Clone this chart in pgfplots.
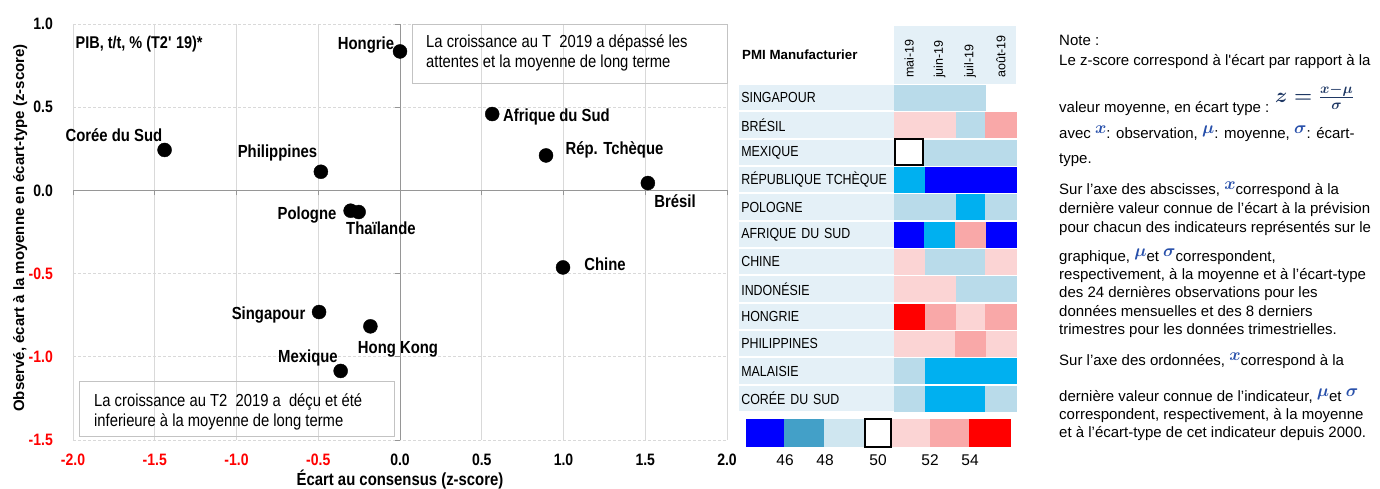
\documentclass[border=0pt]{standalone}
\usepackage{pgfplots}
\pgfplotsset{compat=1.18}
\usepackage{fontspec}
\setmainfont{Liberation Sans}
\newfontfamily\nar[FakeStretch=0.85]{Liberation Sans}
\definecolor{lbg}{RGB}{228,240,247}
\definecolor{cB}{RGB}{0,0,255}
\definecolor{cC}{RGB}{0,176,240}
\definecolor{cL}{RGB}{185,219,234}
\definecolor{cLP}{RGB}{251,212,212}
\definecolor{cP}{RGB}{249,168,168}
\definecolor{cR}{RGB}{255,0,0}
\definecolor{cS}{RGB}{67,160,200}
\definecolor{cLL}{RGB}{207,230,240}
\definecolor{gridc}{RGB}{217,217,217}
\definecolor{axc}{RGB}{150,150,150}
\definecolor{symc}{RGB}{40,80,170}
\definecolor{navyc}{RGB}{31,56,100}
\definecolor{boxc}{RGB}{195,195,195}
\newcommand\fs[1]{\fontsize{#1}{#1}\selectfont}
\newcommand\sym[1]{\raisebox{5pt}{\color{symc}\fs{17}\boldmath$#1$}}
\newcommand\zform{\textcolor{navyc}{\fs{22}\boldmath$z=\frac{x-\mu}{\sigma}$}}
\newcommand\lab[5]{\node[font=\nar\bfseries\fs{17.5}, inner sep=0pt, anchor=base] at ([shift={(#3pt,#4pt)}]axis cs:#1,#2) {#5};}
\pgfplotsset{cell/.style={only marks, mark=square*, mark size=12.6pt, mark options={xscale=1.218, fill=#1, draw=#1, line width=0.3pt}}}
\begin{document}
\begin{tikzpicture}
\useasboundingbox (0pt,0pt) rectangle (1380pt,489pt);

% ---------- scatter: grid and tick labels ----------
\begin{axis}[at={(400pt,298.6pt)}, anchor=origin, scale only axis, width=654pt, height=416pt,
 xmin=-2, xmax=2, ymin=-1.5, ymax=1,
 xtick={-2,-1.5,-1,-0.5,0,0.5,1,1.5,2},
 ytick={-1.5,-1,-0.5,0,0.5,1},
 xticklabels={{\color{red}-2.0},{\color{red}-1.5},{\color{red}-1.0},{\color{red}-0.5},0.0,0.5,1.0,1.5,2.0},
 yticklabels={{\color{red}-1.5},{\color{red}-1.0},{\color{red}-0.5},0.0,0.5,1.0},
 axis line style={draw=none}, major tick length=0pt,
 xmajorgrids, ymajorgrids,
 x grid style={draw=gridc, line width=0.8pt},
 y grid style={draw=gridc, line width=0.8pt, dash pattern=on 3pt off 2pt},
 xticklabel style={anchor=center, inner sep=0pt, yshift=-20pt, font=\nar\bfseries\fs{16.5}},
 yticklabel style={anchor=east, inner sep=0pt, xshift=-20pt, font=\nar\bfseries\fs{16.5}},
]
\end{axis}

% ---------- scatter: middle axes and data ----------
\begin{axis}[at={(400pt,298.6pt)}, anchor=origin, scale only axis, width=654pt, height=416pt,
 xmin=-2, xmax=2, ymin=-1.5, ymax=1,
 axis lines=middle, axis line style={draw=axc, line width=1pt, -},
 xtick={-2,-1.5,-1,-0.5,0,0.5,1,1.5,2},
 ytick={-1.5,-1,-0.5,0,0.5,1},
 xticklabels={}, yticklabels={},
 tick style={draw=axc, line width=0.8pt}, tick align=outside, major tick length=5pt,
 clip=false,
]
\addplot[only marks, mark=*, mark size=7pt, black] table {
x y
0.000 0.835
0.564 0.459
-1.440 0.243
-0.484 0.112
0.893 0.210
1.516 0.044
-0.302 -0.122
-0.253 -0.130
0.997 -0.463
-0.495 -0.731
-0.181 -0.817
-0.363 -1.085
};
\lab{0.000}{0.835}{-34}{1.7}{Hongrie}
\lab{0.564}{0.459}{64.3}{-7.7}{Afrique du Sud}
\lab{-1.440}{0.243}{-50.7}{8.3}{Corée du Sud}
\lab{-0.484}{0.112}{-43.4}{14}{Philippines}
\lab{0.893}{0.210}{68.5}{0.7}{Rép. Tchèque}
\lab{1.516}{0.044}{27.1}{-24.7}{Brésil}
\lab{-0.302}{-0.122}{-43.6}{-9}{Pologne}
\lab{-0.253}{-0.130}{22.3}{-22.7}{Thaïlande}
\lab{0.997}{-0.463}{42}{-3.3}{Chine}
\lab{-0.495}{-0.731}{-50.5}{-7.7}{Singapour}
\lab{-0.181}{-0.817}{27.6}{-27.6}{Hong Kong}
\lab{-0.363}{-1.085}{-32.7}{8.6}{Mexique}
\end{axis}

% scatter texts
\node[rotate=90, anchor=base, inner sep=0pt, font=\bfseries\fs{15}] at (24pt,261pt) {Observé, écart à la moyenne en écart-type (z-score)};
\node[anchor=base, inner sep=0pt, font=\nar\bfseries\fs{17.5}] at (400pt,3.5pt) {Écart au consensus (z-score)};
\node[anchor=base west, inner sep=0pt, font=\nar\bfseries\fs{17}] at (75.5pt,440pt) {PIB, t/t, \% (T2\textquotesingle\ 19)*};
\draw[boxc, line width=0.8pt] (412pt,406pt) rectangle (727.5pt,465pt);
\node[anchor=base west, inner sep=0pt, font=\nar\fs{17.4}] at (426pt,441.1pt) {La croissance au T~~2019 a dépassé les};
\node[anchor=base west, inner sep=0pt, font=\nar\fs{17.4}] at (426pt,421.1pt) {attentes et la moyenne de long terme};
\draw[boxc, line width=0.8pt] (79pt,53pt) rectangle (394pt,107.3pt);
\node[anchor=base west, inner sep=0pt, font=\nar\fs{17.4}] at (94pt,82.1pt) {La croissance au T2~~2019 a~ déçu et été};
\node[anchor=base west, inner sep=0pt, font=\nar\fs{17.4}] at (94pt,62.1pt) {inferieure à la moyenne de long terme};

% ---------- heatmap ----------
\begin{axis}[at={(909.25pt,90.67pt)}, anchor=origin, scale only axis, width=122pt, height=328pt,
 xmin=-0.5, xmax=3.5, ymin=-0.5, ymax=11.5,
 axis line style={draw=none}, major tick length=0pt,
 xtick={0,1,2,3}, xticklabels={mai-19,juin-19,juil-19,août-19},
 xticklabel pos=top,
 xticklabel style={rotate=90, anchor=west, fill=lbg, inner xsep=6pt, inner ysep=0pt, text width=46pt, align=left, minimum height=30.7pt, font=\fs{12.5}},
 ytick={0,1,2,3,4,5,6,7,8,9,10,11},
 yticklabels={CORÉE DU SUD,MALAISIE,PHILIPPINES,HONGRIE,INDONÉSIE,CHINE,AFRIQUE DU SUD,POLOGNE,RÉPUBLIQUE TCHÈQUE,MEXIQUE,BRÉSIL,SINGAPOUR},
 yticklabel style={anchor=east, fill=lbg, inner xsep=2.5pt, inner ysep=0pt, text width=150pt, align=left, minimum height=25.2pt, font=\nar\fs{14.6}},
 clip=false,
]
\addplot[cell=cB] coordinates {(1,8)(2,8)(3,8)(0,6)(3,6)};
\addplot[cell=cC] coordinates {(0,8)(2,7)(1,6)(1,1)(2,1)(3,1)(1,0)(2,0)};
\addplot[cell=cL] coordinates {(0,11)(1,11)(2,11)(2,10)(1,9)(2,9)(3,9)(0,7)(1,7)(3,7)(1,5)(2,5)(2,4)(3,4)(0,1)(0,0)(3,0)};
\addplot[cell=cLP] coordinates {(0,10)(1,10)(0,5)(3,5)(0,4)(1,4)(2,3)(0,2)(1,2)(3,2)};
\addplot[cell=cP] coordinates {(3,10)(2,6)(1,3)(3,3)(2,2)};
\addplot[cell=cR] coordinates {(0,3)};
\addplot[only marks, mark=square, mark size=13pt, mark options={xscale=1.077, draw=black, line width=2pt}] coordinates {(0,9)};
\end{axis}
\node[anchor=base west, inner sep=0pt, font=\bfseries\fs{13.3}] at (742pt,429pt) {PMI Manufacturier};

% ---------- colour key ----------
\begin{axis}[at={(746pt,42pt)}, anchor=origin, scale only axis, width=265pt, height=28pt,
 xmin=0, xmax=265, ymin=0, ymax=1,
 axis line style={draw=none}, major tick length=0pt,
 ytick=\empty, xtick={39,79,132,184,224}, xticklabels={46,48,50,52,54},
 xticklabel style={anchor=center, inner sep=0pt, yshift=-13pt, font=\fs{15.5}},
 clip=false]
\addplot[fill=cB, draw=none] coordinates {(0,1)(38,1)} \closedcycle;
\addplot[fill=cS, draw=none] coordinates {(38,1)(78,1)} \closedcycle;
\addplot[fill=cLL, draw=none] coordinates {(78,1)(118,1)} \closedcycle;
\addplot[fill=cLP, draw=none] coordinates {(146,1)(184,1)} \closedcycle;
\addplot[fill=cP, draw=none] coordinates {(184,1)(223,1)} \closedcycle;
\addplot[fill=cR, draw=none] coordinates {(223,1)(265,1)} \closedcycle;
\addplot[fill=white, draw=black, line width=2pt] coordinates {(119,1)(145,1)} \closedcycle;
\end{axis}

% ---------- note ----------
\begin{scope}[every node/.style={anchor=base west, inner sep=0pt, font=\fs{15}}]
\node at (1059pt,443.7pt) {Note :};
\node at (1059pt,423.7pt) {Le z-score correspond à l\textquotesingle écart par rapport à la};
\node at (1059pt,376.7pt) {valeur moyenne, en écart type :};
\node[anchor=west] at (1275pt,392pt) {\zform};
\node at (1059pt,350.7pt) {avec \sym{x}: observation, \sym{\mu}: moyenne, \sym{\sigma}: écart-};
\node at (1059pt,325.7pt) {type.};
\node at (1059pt,294.7pt) {Sur l’axe des abscisses, \sym{x}correspond à la};
\node at (1059pt,275.7pt) {dernière valeur connue de l’écart à la prévision};
\node at (1059pt,256.7pt) {pour chacun des indicateurs représentés sur le};
\node at (1059pt,227pt) {graphique, \sym{\mu}et \sym{\sigma}correspondent,};
\node at (1059pt,209pt) {respectivement, à la moyenne et à l’écart-type};
\node at (1059pt,191pt) {des 24 dernières observations pour les};
\node at (1059pt,172pt) {données mensuelles et des 8 derniers};
\node at (1059pt,154pt) {trimestres pour les données trimestrielles.};
\node at (1059pt,123pt) {Sur l’axe des ordonnées, \sym{x}correspond à la};
\node at (1059pt,87pt) {dernière valeur connue de l’indicateur, \sym{\mu}et \sym{\sigma}};
\node at (1059pt,69pt) {correspondent, respectivement, à la moyenne};
\node at (1059pt,51pt) {et à l’écart-type de cet indicateur depuis 2000.};
\end{scope}
\end{tikzpicture}
\end{document}
